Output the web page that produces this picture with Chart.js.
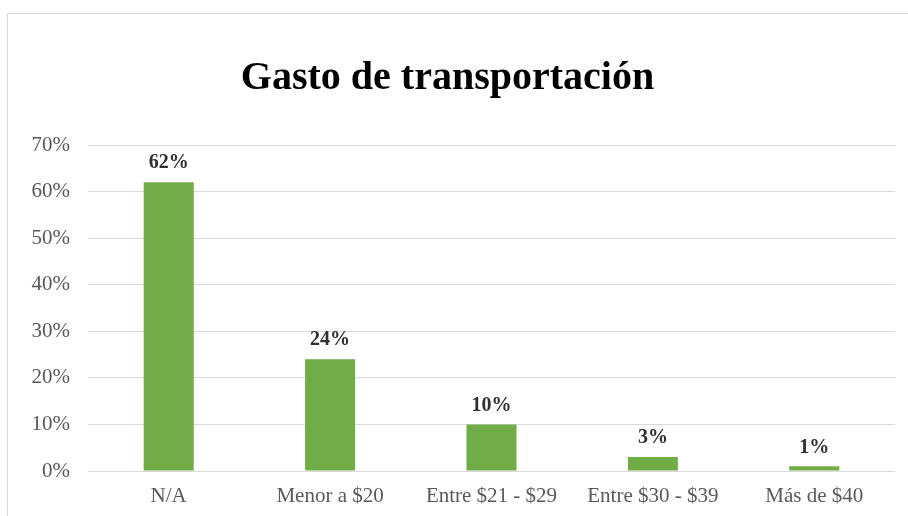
<!DOCTYPE html>
<html>
<head>
<meta charset="utf-8">
<script src="https://cdn.jsdelivr.net/npm/chart.js@4.4.0/dist/chart.umd.min.js"></script>
<style>
  body { margin: 0; background: #fff; }
  #frame { position: absolute; left: 7px; top: 13px; width: 1000px; height: 600px; border: 1px solid #d9d9d9; }
  #wrap { position: absolute; left: 0; top: 0; width: 908px; height: 516px; }
</style>
</head>
<body>
<div id="frame"></div>
<div id="wrap"><canvas id="chart"></canvas></div>
<script>
const categories = ['N/A', 'Menor a $20', 'Entre $21 - $29', 'Entre $30 - $39', 'Más de $40'];
const values = [62, 24, 10, 3, 1];
const yTicks = [0, 10, 20, 30, 40, 50, 60, 70];

const serif = "'Liberation Serif', 'Times New Roman', serif";

// draws the bold percentage above each bar
const valueLabels = {
  id: 'valueLabels',
  afterDatasetsDraw(chart) {
    const ctx = chart.ctx;
    const meta = chart.getDatasetMeta(0);
    ctx.save();
    ctx.font = 'bold 20px ' + serif;
    ctx.fillStyle = '#303030';
    ctx.textAlign = 'center';
    ctx.textBaseline = 'middle';
    meta.data.forEach((bar, i) => {
      ctx.fillText(values[i] + '%', bar.x, bar.y - 19);
    });
    ctx.restore();
  }
};

const ctx = document.getElementById('chart').getContext('2d');
const chart = new Chart(ctx, {
  type: 'bar',
  data: {
    labels: categories,
    datasets: [{
      label: 'Gasto',
      data: values,
      backgroundColor: '#70ad47',
      barPercentage: 0.31,
      categoryPercentage: 1
    }]
  },
  options: {
    responsive: true,
    maintainAspectRatio: false,
    animation: false,
    layout: { padding: { left: 0, right: 13, top: 0, bottom: 0 } },
    plugins: {
      legend: { display: false },
      tooltip: { enabled: false },
      title: {
        display: true,
        text: 'Gasto de transportación',
        color: '#000',
        font: { family: serif, size: 40, weight: 'bold' },
        padding: { top: 55, bottom: 42 }
      }
    },
    scales: {
      x: {
        grid: { display: false, drawTicks: false },
        border: { display: false },
        ticks: {
          color: '#595959',
          font: { family: serif, size: 21 },
          padding: 13,
          maxRotation: 0
        },
        afterFit(scale) { scale.height = 45; }
      },
      y: {
        min: 0,
        max: 70,
        afterBuildTicks(scale) { scale.ticks = yTicks.map(v => ({ value: v })); },
        grid: { color: '#d9d9d9', drawTicks: false, lineWidth: 1 },
        border: { display: false },
        ticks: {
          color: '#595959',
          font: { family: serif, size: 21 },
          padding: 18,
          callback: v => v + '%'
        },
        afterFit(scale) { scale.width = 88; }
      }
    }
  },
  plugins: [valueLabels]
});
</script>
</body>
</html>
